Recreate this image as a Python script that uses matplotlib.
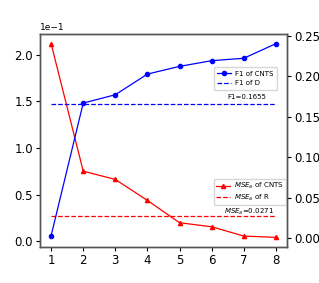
import matplotlib
matplotlib.use("Agg")
import matplotlib.pyplot as plt

x = [1, 2, 3, 4, 5, 6, 7, 8]
mse_cnts = [0.212, 0.0753, 0.0664, 0.0439, 0.0200, 0.0157, 0.0057, 0.0043]
mse_r = 0.0271
f1_cnts = [0.003, 0.1667, 0.177, 0.2025, 0.212, 0.219, 0.222, 0.240]
f1_d = 0.1655

fig = plt.figure(figsize=(3.19, 2.83), dpi=100)
ax = fig.add_axes([0.125, 0.127, 0.775, 0.753])
ax2 = ax.twinx()

ax.plot(x, mse_cnts, color='red', marker='^', markersize=3, linewidth=0.9, label='$MSE_a$ of CNTS')
ax.axhline(mse_r, color='red', linestyle='--', linewidth=0.9, xmin=0.045, xmax=0.955, label='$MSE_a$ of R')
ax2.plot(x, f1_cnts, color='blue', marker='o', markersize=3, linewidth=0.9, label='F1 of CNTS')
ax2.axhline(f1_d, color='blue', linestyle='--', linewidth=0.9, xmin=0.045, xmax=0.955, label='F1 of D')

ax.ticklabel_format(axis='y', style='sci', scilimits=(0, 0))
ax.yaxis.get_offset_text().set_fontsize(6.5)
ax.set_xticks(x)
ax2.set_ylim(-0.011, 0.252)
ax2.set_yticks([0.0, 0.05, 0.10, 0.15, 0.20, 0.25])
ax2.set_yticklabels(['0.00', '0.05', '0.10', '0.15', '0.20', '0.25'])
for a in (ax, ax2):
    a.tick_params(labelsize=8.5, length=3, pad=2)
    for s in a.spines.values():
        s.set_color('#555555')
        s.set_linewidth(1.0)

ax.text(7.15, mse_r - 0.0008, '$MSE_a$=0.0271', fontsize=5, ha='center', va='bottom')
ax2.text(7.1, 0.170, 'F1=0.1655', fontsize=5, ha='center', va='bottom')

ax2.legend(loc='upper left', bbox_to_anchor=(0.69, 0.86), fontsize=5, frameon=True,
           borderpad=0.5, handlelength=2.0, handletextpad=0.6)
ax.legend(loc='upper left', bbox_to_anchor=(0.69, 0.335), fontsize=5, frameon=True,
          borderpad=0.3, labelspacing=0.2, handlelength=2.0, handletextpad=0.6)

fig.savefig('out.png', dpi=100)
